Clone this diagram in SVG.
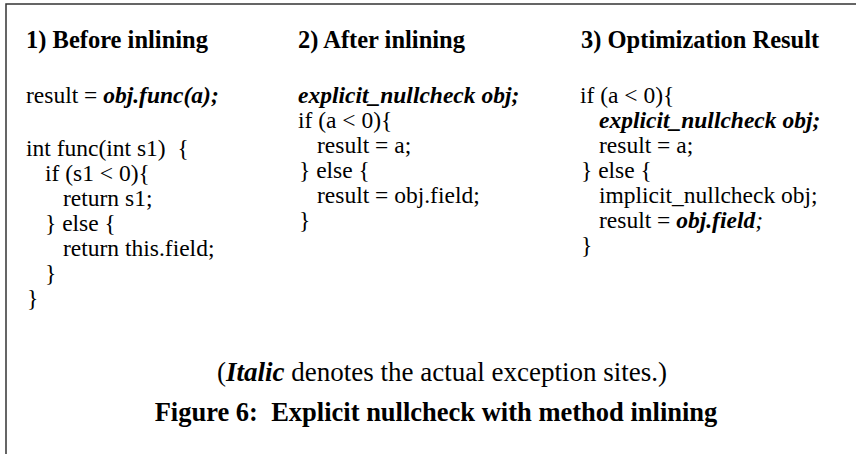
<svg xmlns="http://www.w3.org/2000/svg" width="856" height="454" viewBox="0 0 856 454">
<style>
text{font-family:"Liberation Serif","Times New Roman",serif;font-size:23.5px;fill:#000}
.h{font-weight:bold;font-size:24.5px}
.e{font-weight:bold;font-style:italic}
.cap{font-size:27px}
.fig{font-weight:bold;font-size:26.5px}
.frame{stroke:#333;stroke-width:1.5;fill:none}
</style>
<rect x="0" y="0" width="856" height="454" fill="#fff"/>
<path class="frame" d="M6,454 V4 H856"/>
<g id="col1">
<text class="h" x="26" y="48">1) Before inlining</text>
<text x="26" y="103" xml:space="preserve">result = <tspan class="e">obj.func(a);</tspan></text>
<text x="26" y="156" xml:space="preserve">int func(int s1)  {</text>
<text x="45" y="181">if (s1 &lt; 0){</text>
<text x="63" y="206">return s1;</text>
<text x="45" y="231">} else {</text>
<text x="63" y="256">return this.field;</text>
<text x="45" y="281">}</text>
<text x="27" y="306">}</text>
</g>
<g id="col2">
<text class="h" x="298" y="48">2) After inlining</text>
<text class="e" x="298" y="103">explicit_nullcheck obj;</text>
<text x="298" y="128">if (a &lt; 0){</text>
<text x="317" y="153">result = a;</text>
<text x="299" y="178">} else {</text>
<text x="317" y="203">result = obj.field;</text>
<text x="299" y="228">}</text>
</g>
<g id="col3">
<text class="h" x="581" y="48">3) Optimization Result</text>
<text x="580" y="103">if (a &lt; 0){</text>
<text class="e" x="599" y="128">explicit_nullcheck obj;</text>
<text x="599" y="153">result = a;</text>
<text x="581" y="178">} else {</text>
<text x="599" y="203">implicit_nullcheck obj;</text>
<text x="599" y="228" xml:space="preserve">result = <tspan class="e">obj.field</tspan><tspan font-style="italic">;</tspan></text>
<text x="581" y="253">}</text>
</g>
<g id="caption">
<text class="cap" x="442" y="381" text-anchor="middle">(<tspan class="e">Italic</tspan> denotes the actual exception sites.)</text>
<text class="fig" x="436" y="421" text-anchor="middle" xml:space="preserve">Figure 6:  Explicit nullcheck with method inlining</text>
</g>
</svg>
